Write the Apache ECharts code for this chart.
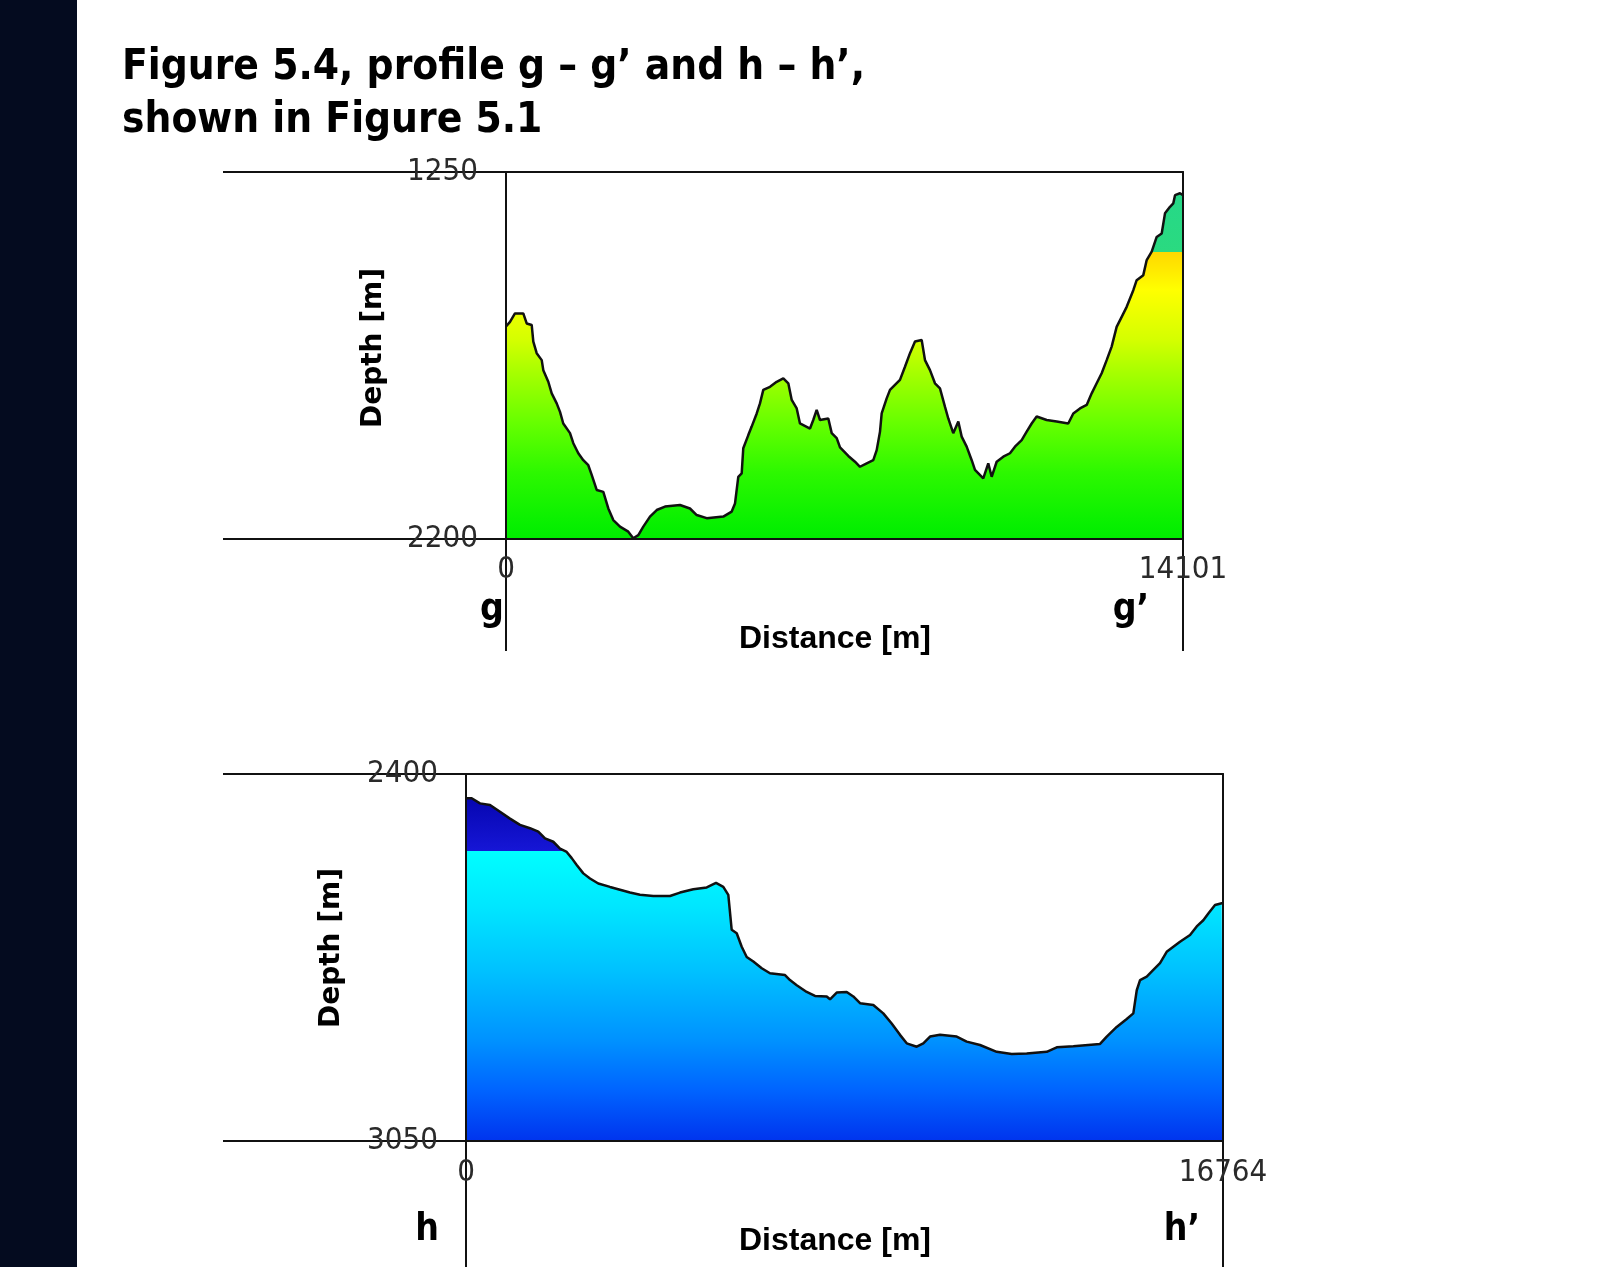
<!DOCTYPE html>
<html>
<head>
<meta charset="utf-8">
<script src="https://cdn.jsdelivr.net/npm/echarts@6/dist/echarts.min.js"></script>
<style>
html,body{margin:0;padding:0;background:#ffffff;}
#c{width:1606px;height:1267px;}
</style>
</head>
<body>
<div id="c"></div>
<script>
// ---- Profile g - g' ----
const topDistance = [0, 83, 187, 360, 431, 535, 569, 639, 744, 777, 881, 952, 1056, 1125, 1193, 1333, 1402, 1506, 1610, 1714,
  1785, 1889, 2027, 2131, 2235, 2374, 2547, 2651, 2756, 2860, 2999, 3139, 3312, 3624, 3832, 3972, 4180, 4526, 4701, 4770,
  4838, 4909, 4942, 5047, 5117, 5222, 5290, 5359, 5499, 5638, 5776, 5880, 5951, 6055, 6123, 6332, 6400, 6471, 6540, 6713,
  6784, 6888, 6957, 7130, 7269, 7373, 7513, 7650, 7721, 7790, 7825, 7929, 7998, 8102, 8206, 8310, 8415, 8519, 8658, 8727,
  8831, 8935, 9039, 9144, 9212, 9316, 9421, 9491, 9595, 9700, 9768, 9941, 10045, 10116, 10220, 10358, 10497, 10601, 10741, 10845,
  10949, 11053, 11261, 11470, 11711, 11816, 11955, 12095, 12199, 12303, 12407, 12511, 12615, 12719, 12824, 12928, 13066, 13136, 13274, 13345,
  13449, 13553, 13657, 13726, 13830, 13899, 13935, 14039, 14101];
const topDepth = [1650, 1638, 1616, 1616, 1642, 1646, 1689, 1719, 1737, 1763, 1793, 1823, 1849, 1871, 1901, 1926, 1952, 1978, 1996, 2009,
  2034, 2073, 2078, 2121, 2151, 2168, 2181, 2198, 2190, 2168, 2142, 2125, 2116, 2112, 2121, 2138, 2146, 2142, 2129, 2108,
  2039, 2030, 1965, 1931, 1909, 1875, 1849, 1814, 1806, 1793, 1784, 1797, 1840, 1862, 1901, 1914, 1892, 1866, 1892, 1888,
  1926, 1939, 1963, 1985, 2000, 2013, 2004, 1996, 1970, 1922, 1875, 1836, 1814, 1801, 1788, 1754, 1719, 1689, 1685, 1737,
  1763, 1797, 1810, 1858, 1888, 1926, 1896, 1935, 1961, 1996, 2021, 2043, 2004, 2039, 2000, 1987, 1978, 1961, 1944, 1922,
  1901, 1883, 1892, 1896, 1901, 1875, 1862, 1853, 1823, 1797, 1771, 1737, 1702, 1651, 1625, 1599, 1556, 1530, 1517, 1478,
  1456, 1418, 1409, 1357, 1340, 1331, 1310, 1305, 1310];
const topXTicks = [0, 14101];
const topYTicks = [1250, 2200];

// ---- Profile h - h' ----
const bottomDistance = [0, 126, 310, 532, 753, 974, 1196, 1417, 1601, 1750, 1933, 2082, 2230, 2341, 2452, 2598, 2746, 2930, 3189, 3410,
  3632, 3853, 4148, 4518, 4739, 5034, 5331, 5537, 5698, 5809, 5884, 5995, 6106, 6216, 6363, 6549, 6732, 7065, 7175, 7324,
  7545, 7729, 7988, 8061, 8209, 8431, 8577, 8726, 9020, 9241, 9427, 9611, 9760, 9981, 10127, 10276, 10497, 10867, 11088, 11383,
  11753, 12085, 12417, 12860, 13082, 13449, 14041, 14189, 14410, 14632, 14778, 14854, 14927, 15075, 15221, 15369, 15517, 15664, 15812, 16034,
  16182, 16328, 16439, 16587, 16736, 16764];
const bottomDepth = [2443, 2443, 2452, 2455, 2467, 2479, 2490, 2496, 2502, 2514, 2520, 2532, 2538, 2549, 2561, 2576, 2585, 2594, 2600, 2605,
  2610, 2614, 2616, 2616, 2610, 2604, 2601, 2593, 2600, 2614, 2676, 2682, 2706, 2724, 2732, 2744, 2753, 2756, 2765, 2774,
  2786, 2793, 2794, 2799, 2787, 2786, 2794, 2806, 2809, 2824, 2842, 2862, 2877, 2883, 2877, 2865, 2862, 2865, 2874, 2880,
  2892, 2896, 2895, 2892, 2884, 2882, 2878, 2865, 2848, 2834, 2824, 2783, 2765, 2759, 2747, 2735, 2715, 2706, 2697, 2685,
  2670, 2659, 2647, 2632, 2629, 2629];
const bottomXTicks = [0, 16764];
const bottomYTicks = [2400, 3050];

const chart = echarts.init(document.getElementById('c'), null, {renderer: 'canvas'});

const TICK_FONT = "'Liberation Sans Narrow', 'DejaVu Sans Condensed', 'Liberation Sans', sans-serif";
const TITLE_FONT = "'DejaVu Sans Condensed', 'DejaVu Sans', sans-serif";
const INK = '#111111';

function depthFill(depths, axisMax, stops) {
  const dmin = Math.min.apply(null, depths);
  return new echarts.graphic.LinearGradient(0, 0, 0, 1, stops.map(function (s) {
    const off = (s[0] - dmin) / (axisMax - dmin);
    return {offset: Math.min(1, Math.max(0, off)), color: s[1]};
  }));
}

function gridOf(left, top, width, height) {
  return {left: left, top: top, width: width, height: height, containLabel: false,
    outerBoundsMode: 'none', show: false};
}

function xAxisOf(gi, ticks, tickLen, margin) {
  return {
    type: 'value', gridIndex: gi, min: ticks[0], max: ticks[ticks.length - 1], z: 5,
    axisLine: {show: true, onZero: false, lineStyle: {color: INK, width: 2}},
    axisTick: {show: true, inside: false, length: tickLen, customValues: ticks, lineStyle: {color: INK, width: 2}},
    axisLabel: {show: true, customValues: ticks, margin: margin, formatter: function (v) { return String(v); },
      color: '#2a2a2a', fontFamily: TICK_FONT, fontSize: 31, showMinLabel: true, showMaxLabel: true, hideOverlap: false},
    splitLine: {show: false}
  };
}

function yAxisOf(gi, ticks, tickLen) {
  return {
    type: 'value', gridIndex: gi, inverse: true, position: 'left', min: ticks[0], max: ticks[ticks.length - 1], z: 5,
    axisLine: {show: true, onZero: false, lineStyle: {color: INK, width: 2}},
    axisTick: {show: true, inside: false, length: tickLen, customValues: ticks, lineStyle: {color: INK, width: 2}},
    axisLabel: {show: true, customValues: ticks, margin: 28, formatter: function (v) { return String(v); },
      color: '#2a2a2a', fontFamily: TICK_FONT, fontSize: 31, showMinLabel: true, showMaxLabel: true, hideOverlap: false},
    splitLine: {show: false}
  };
}

function frameAxisOf(gi, ticks, position) {
  return {
    type: 'value', gridIndex: gi, inverse: true, position: position, min: ticks[0], max: ticks[ticks.length - 1], z: 5,
    axisLine: {show: true, onZero: false, lineStyle: {color: INK, width: 2}},
    axisTick: {show: false}, axisLabel: {show: false}, splitLine: {show: false}
  };
}

function topFrameOf(gi, ticks) {
  return {
    type: 'value', gridIndex: gi, position: 'top', min: ticks[0], max: ticks[ticks.length - 1], z: 5,
    axisLine: {show: true, onZero: false, lineStyle: {color: INK, width: 2}},
    axisTick: {show: false}, axisLabel: {show: false}, splitLine: {show: false}
  };
}

function textEl(text, x, y, size, opts) {
  opts = opts || {};
  return {
    type: 'text', x: x, y: y, rotation: opts.rotation || 0, z: 10,
    style: {
      text: text, fill: opts.color || '#000', fontSize: size, fontWeight: opts.weight || 'bold',
      fontFamily: opts.family || TITLE_FONT,
      align: opts.align || 'center', verticalAlign: 'middle',
      textAlign: opts.align || 'center', textVerticalAlign: 'middle'
    }
  };
}

const topStops = [
  [1250, '#26d888'], [1457, '#2ada80'], [1457, '#ffd800'], [1500, '#ffe800'], [1555, '#ffff00'],
  [1685, '#d4ff00'], [1770, '#a6ff00'], [1900, '#66ff00'], [2030, '#2cf800'], [2160, '#08f000'], [2200, '#00ec00']
];
const bottomStops = [
  [2400, '#0606b0'], [2536, '#1616d6'], [2536, '#00ffff'], [2636, '#00e6ff'], [2752, '#00c0ff'],
  [2871, '#0092ff'], [2960, '#0064ff'], [3050, '#0034ee']
];

const option = {
  animation: false,
  backgroundColor: '#ffffff',
  grid: [gridOf(506, 172, 677, 367), gridOf(466, 774, 757, 367)],
  xAxis: [
    xAxisOf(0, topXTicks, 112, 15),
    xAxisOf(1, bottomXTicks, 130, 16),
    topFrameOf(0, topXTicks),
    topFrameOf(1, bottomXTicks)
  ],
  yAxis: [
    yAxisOf(0, topYTicks, 283),
    yAxisOf(1, bottomYTicks, 243),
    frameAxisOf(0, topYTicks, 'right'),
    frameAxisOf(1, bottomYTicks, 'right')
  ],
  series: [
    {
      type: 'line', xAxisIndex: 0, yAxisIndex: 0, showSymbol: false, smooth: false, z: 2,
      data: topDistance.map(function (d, i) { return [d, topDepth[i]]; }),
      lineStyle: {color: INK, width: 2.5},
      areaStyle: {origin: 'end', opacity: 1, color: depthFill(topDepth, topYTicks[1], topStops)}
    },
    {
      type: 'line', xAxisIndex: 1, yAxisIndex: 1, showSymbol: false, smooth: false, z: 2,
      data: bottomDistance.map(function (d, i) { return [d, bottomDepth[i]]; }),
      lineStyle: {color: INK, width: 2.5},
      areaStyle: {origin: 'end', opacity: 1, color: depthFill(bottomDepth, bottomYTicks[1], bottomStops)}
    }
  ],
  graphic: [
    {type: 'rect', left: 0, top: 0, z: 0, shape: {width: 77, height: 1267}, style: {fill: '#040b1f'}},
    textEl('Figure 5.4, profile g \u2013 g\u2019 and h \u2013 h\u2019,', 122, 68, 42, {align: 'left'}),
    textEl('shown in Figure 5.1', 122, 121, 42, {align: 'left'}),
    textEl('Depth [m]', 374, 348, 28, {rotation: Math.PI / 2, family: "'DejaVu Sans', sans-serif"}),
    textEl('Depth [m]', 332, 948, 28, {rotation: Math.PI / 2, family: "'DejaVu Sans', sans-serif"}),
    textEl('Distance [m]', 835, 639, 32, {family: "'Liberation Sans', Arial, sans-serif"}),
    textEl('Distance [m]', 835, 1241, 32, {family: "'Liberation Sans', Arial, sans-serif"}),
    textEl('g', 492, 610, 37),
    textEl('g\u2019', 1131, 610, 37),
    textEl('h', 427, 1230, 37),
    textEl('h\u2019', 1182, 1230, 37)
  ]
};

chart.setOption(option);
</script>
</body>
</html>
